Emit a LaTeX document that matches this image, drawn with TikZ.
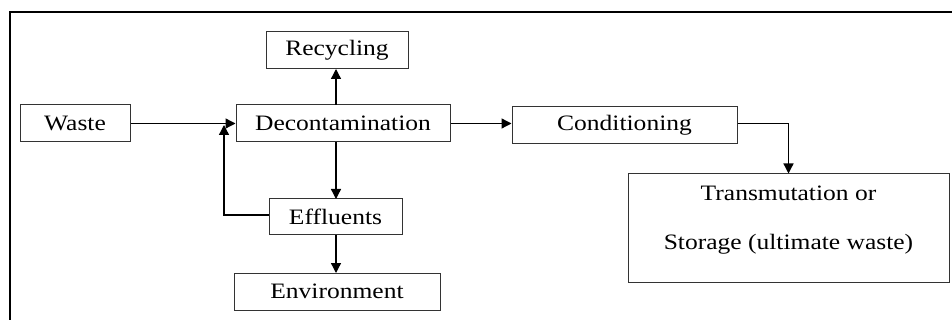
\documentclass[tikz,border=0pt]{standalone}
\usepackage{fontspec}
\setmainfont{Liberation Serif}[FakeStretch=1.16]
\usetikzlibrary{arrows.meta}
\begin{document}
\begin{tikzpicture}[x=1pt,y=-1pt,
  box/.style={draw=black!80,line width=1pt,rectangle,inner sep=0pt,
    font=\fontsize{22}{26}\selectfont},
  arr/.style={draw=black,line width=1.3pt,-{Triangle[length=10pt,width=10pt]}},
  ln/.style={draw=black,line width=1.3pt}]
\useasboundingbox (0,0) rectangle (952,320);
\draw[line width=2.6pt,line cap=rect] (10,322) -- (10,12) -- (954,12);
\node[box,minimum width=142pt,minimum height=37pt] (recy) at (337,50.5) {Recycling};
\node[box,minimum width=110pt,minimum height=37pt] (waste) at (75,123.5) {Waste};
\node[box,minimum width=214pt,minimum height=37pt] (decon) at (343,123.5) {Decontamination};
\node[box,minimum width=133pt,minimum height=36pt] (effl) at (335.5,217) {Effluents};
\node[box,minimum width=206pt,minimum height=37pt] (env) at (337,291.5) {Environment};
\node[box,minimum width=225pt,minimum height=37pt] (cond) at (624.5,125.5) {Conditioning};
\node[box,minimum width=321pt,minimum height=108pt] (trans) at (788.5,228) {};
\node[font=\fontsize{22}{26}\selectfont,inner sep=0pt] (t1) at (788.5,193) {Transmutation or};
\node[font=\fontsize{22}{26}\selectfont,inner sep=0pt] (t2) at (788.5,244) {Storage (ultimate waste)};
\coordinate (fb) at (224,125);
\draw[arr] (waste.east) -- (decon.west);
\draw[arr] (336,105) -- (336,69);
\draw[arr] (336,142) -- (336,199);
\draw[arr] (336,235) -- (336,273);
\draw[arr] (effl.west |- 0,215) -| (fb);
\draw[arr] (decon.east) -- (decon.east -| cond.west);
\draw[arr] (cond.east |- decon.east) -| (trans.north);
\end{tikzpicture}
\end{document}
